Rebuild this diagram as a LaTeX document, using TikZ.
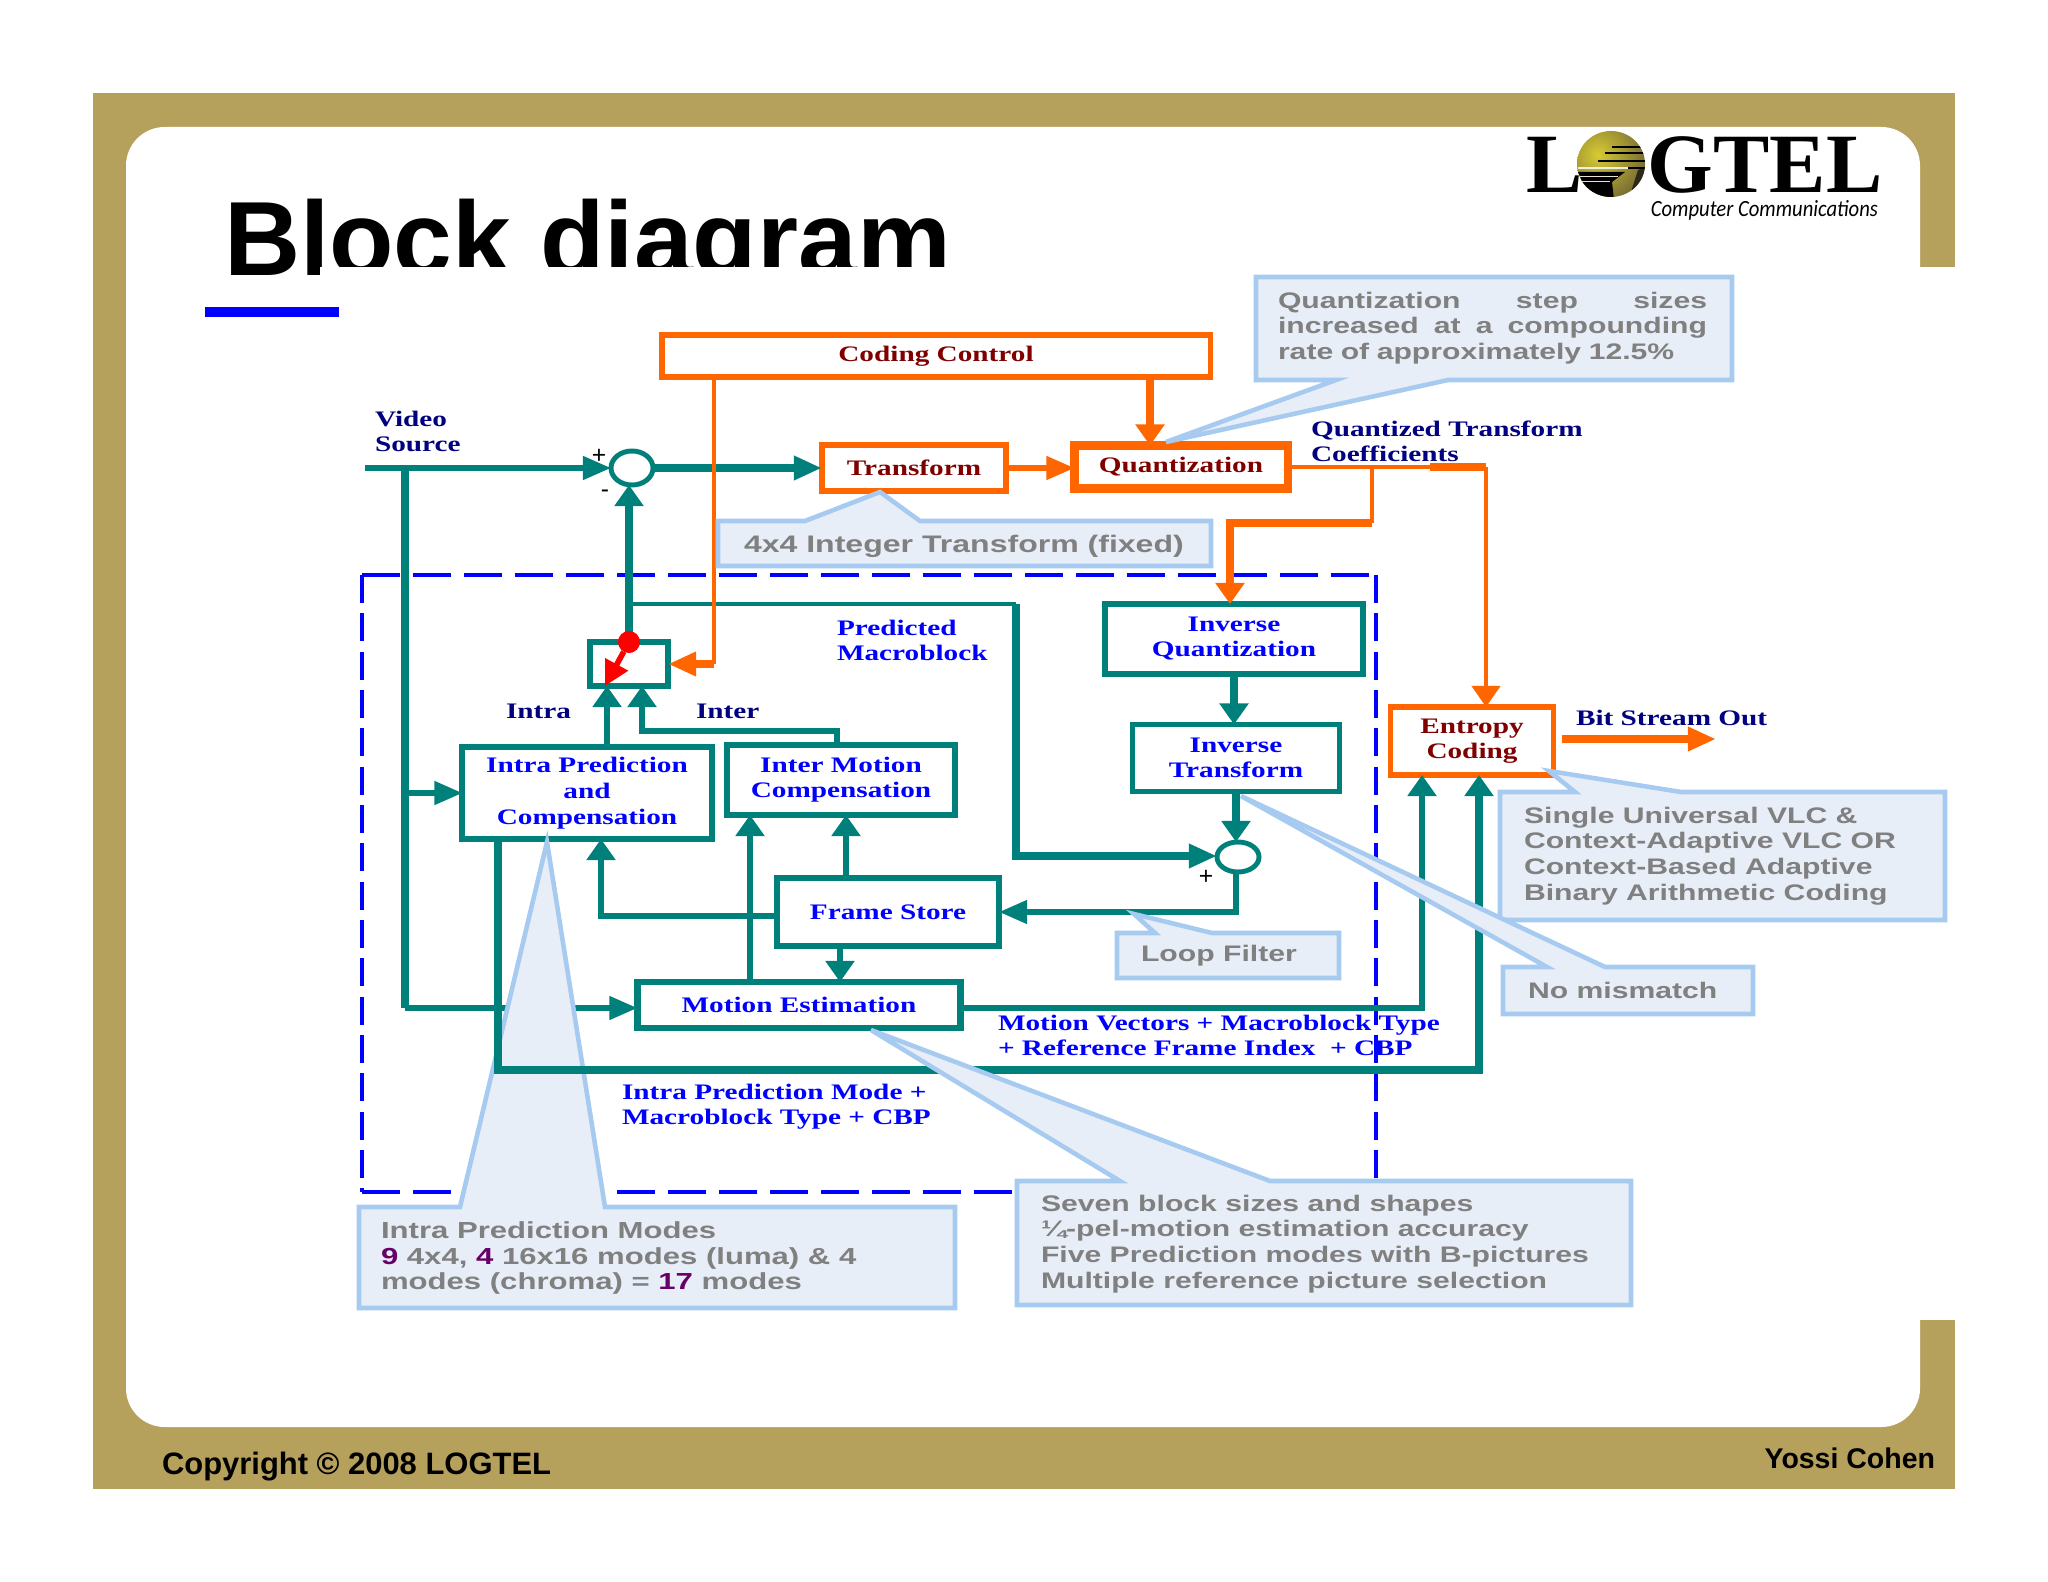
\documentclass[tikz,border=0pt]{standalone}
\usepackage{fontspec}
\usetikzlibrary{arrows.meta,shapes.geometric}
\setmainfont{Liberation Sans}
\newfontfamily\boxserif{Liberation Serif}[FakeStretch=1.32]
\newfontfamily\boxsans{Liberation Sans}[FakeStretch=1.34]
\newfontfamily\logoserif{Liberation Serif}
\newfontfamily\logosub{Carlito}[FakeStretch=0.89]
\definecolor{gold}{HTML}{B6A15C}
\definecolor{tealline}{HTML}{00807A}
\definecolor{orangeline}{HTML}{FF6600}
\definecolor{notefill}{HTML}{E8EEF7}
\definecolor{noteline}{HTML}{A6CAF0}
\definecolor{notetext}{HTML}{808080}
\definecolor{numtext}{HTML}{660066}
\definecolor{darkred}{HTML}{800000}
\definecolor{navy}{HTML}{000080}
\tikzset{
  every node/.style={inner sep=0pt,outer sep=0pt,align=center},
  w/.style={minimum width=#1*0.2845pt},
  h/.style={minimum height=#1*0.2845pt},
  boxfont/.style={font=\boxserif\bfseries\fontsize{6.3}{7.1}\selectfont},
  teal box/.style={draw=tealline,line width=1.5pt,fill=white,boxfont,text=blue},
  orange box/.style={draw=orangeline,line width=1.5pt,fill=white,boxfont,text=darkred},
  sum node/.style={ellipse,draw=tealline,line width=1.4pt,fill=white},
  lab/.style={boxfont,text=blue,align=left,anchor=west},
  dark lab/.style={boxfont,text=navy,align=left,anchor=west},
  side tip/.style={-{Triangle[length=8pt,width=6.5pt]}},
  up tip/.style={-{Triangle[length=6pt,width=8pt]}},
  teal line/.style={draw=tealline,line width=1.5pt},
  teal fat/.style={draw=tealline,line width=2.1pt},
  orange line/.style={draw=orangeline,line width=1.2pt},
  orange fat/.style={draw=orangeline,line width=2.1pt},
  dash across/.style={blue,line width=1.2pt,dash pattern=on 10.8pt off 3.7pt},
  dash down/.style={blue,line width=1.4pt,dash pattern=on 8pt off 2.9pt},
  callout/.style={draw=noteline,fill=notefill,line width=1.3pt,line join=miter},
  note/.style={font=\boxsans\bfseries\fontsize{6.4}{7.3}\selectfont,text=notetext,align=left,anchor=west},
}
\begin{document}
\begin{tikzpicture}[x=0.01cm,y=-0.01cm]
  \useasboundingbox (0,0) rectangle (2048,1582);
  % slide frame
  \fill[gold] (93,93) rectangle (1955,1489);
  \fill[white,rounded corners=11pt] (126,127) rectangle (1920,1427);
  \node[anchor=base west,text=black,font=\bfseries\fontsize{30}{30}\selectfont] (title) at (224,275) {Block diagram};
  \fill[white] (320,267) rectangle (1955,1320);
  \fill[blue] (205,307) rectangle (339,317);
  % logo
  \node[anchor=base west,text=black,font=\logoserif\bfseries\fontsize{24}{24}\selectfont] (logo) at (1526,193) {LOGTEL};
  \begin{scope}
    \clip (1611,164) ellipse (34 and 33);
    \fill[white] (1570,125) rectangle (1650,200);
    \shade[inner color=yellow!45!gold,outer color=gold!55!black] (1598,155) circle (58);
    \fill[black] (1578,172) -- (1625,172) -- (1612,182) -- (1614,200) -- (1590,200) -- cycle;
    \fill[black!75!gold] (1638,170) -- (1650,165) -- (1650,195) -- (1630,195) -- cycle;
    \foreach \y/\x in {146/1612,152/1605,160/1598,167/1592}
      \fill[black] (\x,\y) rectangle (1646,\y+2);
    \fill[white!80!gold] (1578,167) rectangle (1628,169);
    \foreach \y/\x in {176/1618,181/1610}
      \fill[white!70!gold] (1578,\y) rectangle (\x,\y+1);
  \end{scope}
  \node[anchor=base east,text=black,font=\logosub\itshape\fontsize{6.6}{7}\selectfont] (logosub) at (1878,217) {Computer Communications};
  \node[anchor=base west,text=black,font=\bfseries\fontsize{8.8}{9}\selectfont] (copy) at (162,1474) {Copyright © 2008 LOGTEL};
  \node[anchor=base east,text=black,font=\bfseries\fontsize{8.1}{9}\selectfont] (name) at (1935,1468) {Yossi Cohen};

  % dashed frame
  \draw[dash across] (362,575) -- (1376,575);
  \draw[dash across] (362,1192) -- (1376,1192);
  \draw[dash down] (362,575) -- (362,1192);
  \draw[dash down] (1376,575) -- (1376,1192);

  % blocks
  \node[orange box,w=548,h=42] (coding) at (936,356) {Coding Control};
  \node[orange box,w=184,h=46] (transform) at (914,468) {Transform};
  \node[orange box,line width=2.3pt,w=213,h=43] (quant) at (1181,467) {Quantization};
  \node[teal box,w=258,h=70] (iquant) at (1234,639) {Inverse\\Quantization};
  \node[teal box,w=207,h=67] (itrans) at (1236,758) {Inverse\\Transform};
  \node[orange box,w=163,h=68] (entropy) at (1472,741) {Entropy\\Coding};
  \node[teal box,line width=1.7pt,w=249,h=92,font=\boxserif\bfseries\fontsize{6.3}{7.3}\selectfont] (intra) at (587,793) {Intra Prediction\\and\\Compensation};
  \node[teal box,w=228,h=70] (inter) at (841,780) {Inter Motion\\Compensation};
  \node[teal box,w=222,h=68] (frame) at (888,912) {Frame Store};
  \node[teal box,line width=1.8pt,w=323,h=46] (motion) at (799,1005) {Motion Estimation};
  \node[draw=tealline,line width=1.5pt,fill=white,w=78,h=44] (sel) at (629,664) {};
  \node[sum node,w=42,h=34] (sum1) at (632,468) {};
  \node[sum node,w=42,h=30] (sum2) at (1238,857) {};
  \coordinate (vin) at (365,468);
  \coordinate (tap) at (405,468);
  \coordinate (tapend) at (405,1008);
  \coordinate (bitstart) at (1562,739);
  \coordinate (bitout) at (1716,739);
  \coordinate (predtap) at (629,604);
  \coordinate (predturn) at (1016,604);
  \coordinate (split) at (1372,467);
  \coordinate (qturn) at (1430,467);

  % teal connectors
  \draw[teal line,side tip] (vin) -- (sum1);
  \draw[teal fat,side tip] (sum1) -- (transform);
  \draw[teal fat] (tap) -- (tapend);
  \draw[teal line,side tip] (tap |- intra.west) -- (intra.west);
  \draw[teal line,side tip] (tapend) -- (motion.west |- tapend);
  \draw[teal fat,up tip] (sel.north) -- (sel.north |- sum1.south);
  \draw[teal line,line width=1.2pt] (predtap) -- (predturn);
  \draw[teal fat,side tip] (predturn) |- (sum2.west |- 0,856);
  \draw[teal line,up tip] (intra.north -| 607,0) -- (sel.south -| 607,0);
  \draw[teal line,up tip] (inter.north -| 837,0) |- (642,731) -- (sel.south -| 642,0);
  \draw[teal line,up tip] (frame.north -| 846,0) -- (inter.south -| 846,0);
  \draw[teal line,up tip] (frame.west |- 0,916) -| (intra.south -| 601,0);
  \draw[teal line,up tip] (motion.north -| 750,0) -- (inter.south -| 750,0);
  \draw[teal line,up tip] (frame.south -| 840,0) -- (motion.north -| 840,0);
  \draw[teal line,side tip] (sum2.south -| 1236,0) |- (frame.east);
  \draw[teal fat,up tip] (iquant.south) -- (iquant.south |- itrans.north);
  \draw[teal fat,up tip] (itrans.south) -- (itrans.south |- sum2.north);
  \draw[teal line,up tip] (motion.east |- 0,1008) -| (entropy.south -| 1422,0);

  % orange connectors
  \draw[orange line,line width=1.5pt,side tip] (transform) -- (transform -| quant.west);
  \draw[orange fat,up tip] (coding.south -| 1150,0) -- (quant.north -| 1150,0);
  \draw[orange line] (coding.south -| 714,0) -- (714,664);
  \draw[orange fat,side tip] (714,664) -- (sel.east);
  \draw[orange line] (quant.east |- split) -- (qturn);
  \draw[orange fat] (qturn) -- (1486,467);
  \draw[orange line,up tip] (1486,467) -- (entropy.north -| 1486,0);
  \draw[orange line] (split) -- (1372,523);
  \draw[orange fat,up tip] (1372,523) -| (iquant.north -| 1230,0);
  \draw[orange fat,side tip] (bitstart) -- (bitout);

  % switch
  \node[circle,fill=red,w=22] (swdot) at (629,642) {};
  \coordinate (swend) at (605,686);
  \draw[red,line width=1.6pt,-{Triangle[length=7pt,width=7pt]}] (swdot) -- (swend);

  % signs
  \node[font=\fontsize{7}{7}\selectfont] (plus1) at (599,456) {+};
  \node[font=\fontsize{7}{7}\selectfont] (minus1) at (605,494) {-};
  \node[font=\fontsize{7}{7}\selectfont] (plus2) at (1206,877) {+};

  % call-outs under the thick line
  \draw[callout] (359,1207) -- (460,1207) -- (547,842) -- (605,1207) -- (955,1207) -- (955,1308) -- (359,1308) -- cycle;
  \draw[teal line,line width=2.1pt,up tip] (intra.south -| 498,0) |- (1479,1070) -- (entropy.south -| 1479,0);
  % other call-outs
  \draw[callout] (1256,277) -- (1732,277) -- (1732,380) -- (1448,380) -- (1166,442) -- (1336,380) -- (1256,380) -- cycle;
  \draw[callout] (718,521) -- (805,521) -- (880,492) -- (920,521) -- (1211,521) -- (1211,566) -- (718,566) -- cycle;
  \draw[callout] (1017,1181) -- (1120,1181) -- (871,1030) -- (1270,1181) -- (1631,1181) -- (1631,1305) -- (1017,1305) -- cycle;
  \draw[callout] (1500,792) -- (1575,792) -- (1549,771) -- (1681,792) -- (1945,792) -- (1945,920) -- (1500,920) -- cycle;
  \draw[callout] (1503,967) -- (1547,967) -- (1241,796) -- (1605,967) -- (1753,967) -- (1753,1014) -- (1503,1014) -- cycle;
  \draw[callout] (1117,933) -- (1155,933) -- (1134,914) -- (1212,933) -- (1339,933) -- (1339,978) -- (1117,978) -- cycle;

  % labels
  \node[dark lab] (video) at (375,431) {Video\\Source};
  \node[dark lab] (coeff) at (1311,441) {Quantized Transform\\Coefficients};
  \node[dark lab] (bitlab) at (1576,718) {Bit Stream Out};
  \node[dark lab] (intralab) at (506,711) {Intra};
  \node[dark lab] (interlab) at (696,711) {Inter};
  \node[lab] (predlab) at (837,640) {Predicted\\Macroblock};
  \node[lab] (mvlab) at (998,1035) {Motion Vectors + Macroblock Type\\+ Reference Frame Index~ + CBP};
  \node[lab] (modelab) at (622,1107) {Intra Prediction Mode +\\Macroblock Type + CBP};

  % call-out texts
  \node[note,text width=122pt] (n1) at (1278,328) {Quantization\hfill step\hfill sizes\\increased\hfill at\hfill a\hfill compounding\\rate of approximately 12.5\%};
  \node[note,font=\boxsans\bfseries\fontsize{6.8}{8}\selectfont] (n2) at (744,546) {4x4 Integer Transform (fixed)};
  \node[note] (n3) at (1524,856) {Single Universal VLC \&\\Context-Adaptive VLC OR\\Context-Based Adaptive\\Binary Arithmetic Coding};
  \node[note] (n4) at (1528,990) {No mismatch};
  \node[note] (n5) at (1141,956) {Loop Filter};
  \node[note,font=\boxsans\bfseries\fontsize{6.6}{7.3}\selectfont] (n6) at (381,1258) {Intra Prediction Modes\\\textcolor{numtext}{9} 4x4, \textcolor{numtext}{4} 16x16 modes (luma) \& 4\\modes (chroma) = \textcolor{numtext}{17} modes};
  \node[note] (n7) at (1041,1244) {Seven block sizes and shapes\\¼-pel-motion estimation accuracy\\Five Prediction modes with B-pictures\\Multiple reference picture selection};
\end{tikzpicture}
\end{document}
